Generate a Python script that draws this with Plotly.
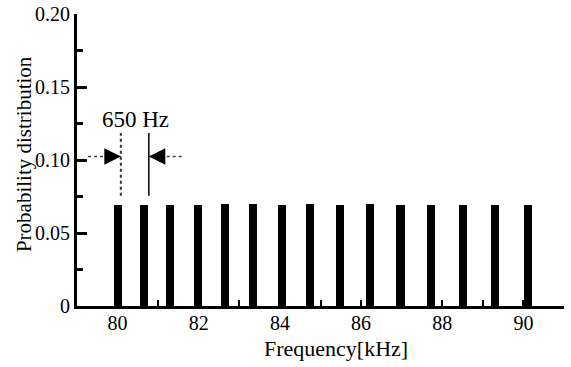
import plotly.graph_objects as go

# ---- data ----
freq_khz = [80.0, 80.65, 81.3, 81.98, 82.64, 83.34, 84.05, 84.75,
            85.49, 86.23, 86.97, 87.73, 88.51, 89.29, 90.11]
prob = [0.069, 0.069, 0.069, 0.069, 0.0698, 0.0698, 0.069, 0.0698,
        0.069, 0.0698, 0.069, 0.069, 0.069, 0.069, 0.069]
x_tick_vals = [80, 82, 84, 86, 88, 90]
y_tick_vals = [0, 0.05, 0.10, 0.15, 0.20]
y_tick_text = ["0", "0.05", "0.10", "0.15", "0.20"]

# spacing annotation (data coordinates)
mark_left_x = 80.08
mark_right_x = 80.77
mark_y_low = 0.0755
mark_y_high = 0.1185
arrow_y = 0.1024
arrow_left_start = 79.27
arrow_right_start = 81.58
label_text = "650 Hz"

FONT = "Liberation Serif"

fig = go.Figure()
fig.add_trace(go.Bar(x=freq_khz, y=prob, width=0.2,
                     marker=dict(color="black", line=dict(width=0)),
                     showlegend=False))

# vertical marker lines
fig.add_shape(type="line", x0=mark_left_x, x1=mark_left_x, y0=mark_y_low, y1=mark_y_high,
              xref="x", yref="y", line=dict(color="#333", width=2, dash="dot"))
fig.add_shape(type="line", x0=mark_right_x, x1=mark_right_x, y0=mark_y_low, y1=mark_y_high,
              xref="x", yref="y", line=dict(color="black", width=1.5))
# dotted arrow shafts
fig.add_shape(type="line", x0=arrow_left_start, x1=mark_left_x, y0=arrow_y, y1=arrow_y,
              xref="x", yref="y", line=dict(color="#444", width=1.5, dash="dot"))
fig.add_shape(type="line", x0=arrow_right_start, x1=mark_right_x, y0=arrow_y, y1=arrow_y,
              xref="x", yref="y", line=dict(color="#444", width=1.5, dash="dot"))
# arrow heads
fig.add_annotation(x=mark_left_x, y=arrow_y, xref="x", yref="y", text="",
                   showarrow=True, ax=-17, ay=0, arrowhead=2, arrowsize=2.2,
                   arrowwidth=1.5, arrowcolor="black", standoff=0)
fig.add_annotation(x=mark_right_x, y=arrow_y, xref="x", yref="y", text="",
                   showarrow=True, ax=17, ay=0, arrowhead=2, arrowsize=2.2,
                   arrowwidth=1.5, arrowcolor="black", standoff=0)
fig.add_annotation(x=80.44, y=0.128, xref="x", yref="y",
                   text=label_text, showarrow=False,
                   font=dict(family=FONT, size=23, color="black"))

# axis titles as annotations
fig.add_annotation(x=0.531, y=-0.144, xref="paper", yref="paper",
                   text="Frequency[kHz]", showarrow=False, yanchor="middle",
                   font=dict(family=FONT, size=22, color="black"))
fig.add_annotation(x=-0.109, y=0.52, xref="paper", yref="paper",
                   text="Probability distribution", showarrow=False, textangle=-90,
                   xanchor="center", yanchor="middle",
                   font=dict(family=FONT, size=21, color="black"))

fig.update_xaxes(range=[79, 91], tickvals=x_tick_vals, ticks="inside", ticklen=6,
                 tickwidth=2, tickcolor="black", showline=True, linewidth=3,
                 linecolor="black", showgrid=False, zeroline=False, automargin=False,
                 ticklabelstandoff=-3,
                 minor=dict(dtick=1, ticks="inside", ticklen=6, tickwidth=2,
                            tickcolor="black", showgrid=False),
                 tickfont=dict(family=FONT, size=20, color="black"))
fig.update_yaxes(range=[0, 0.2], tickvals=y_tick_vals, ticktext=y_tick_text,
                 ticks="inside", ticklen=10, tickwidth=3, tickcolor="black",
                 showline=True, linewidth=3, linecolor="black", showgrid=False,
                 zeroline=False, automargin=False,
                 minor=dict(dtick=0.025, tick0=0, ticks="inside", ticklen=6, tickwidth=3,
                            tickcolor="black", showgrid=False),
                 tickfont=dict(family=FONT, size=20, color="black"))

fig.update_layout(width=571, height=367, margin=dict(l=77, r=7, t=14, b=61),
                  font=dict(family=FONT, color="black"),
                  plot_bgcolor="white", paper_bgcolor="white", bargap=0)
fig.write_html("out.html", config={"displayModeBar": False},
               post_script="document.body.style.margin='0px';document.body.style.overflow='hidden';")
